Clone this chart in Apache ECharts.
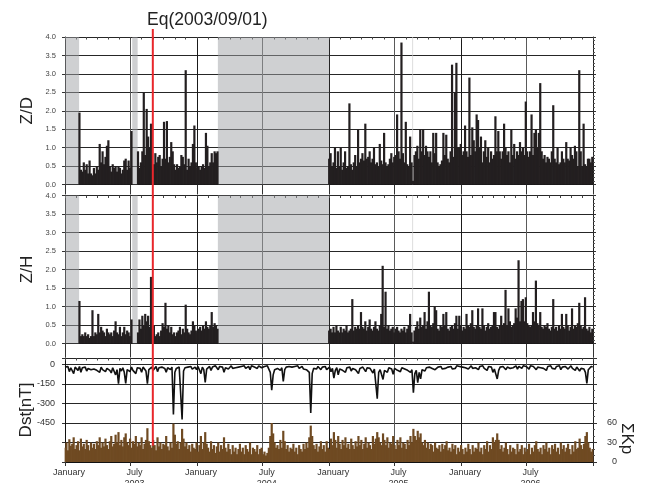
<!DOCTYPE html>
<html><head><meta charset="utf-8">
<script src="https://cdn.jsdelivr.net/npm/echarts@6.0.0/dist/echarts.min.js"></script>
<style>html,body{margin:0;padding:0;background:#fff}#c{width:646px;height:483px}</style>
</head><body><div id="c"></div>
<script>
const FONT = 'Liberation Sans, Arial, sans-serif';
const titleText = 'Eq(2003/09/01)';
const eqDate = '2003-09-01';
const axisStart = '2003-01-01';
const axisEnd = '2007-01-01';
const stepDays = 4;

// shaded (no-data) periods; the last one is a very short gap drawn lighter
const grayPeriods = [['2003-01-01','2003-02-09'],['2003-07-06','2003-07-21'],['2004-02-28','2005-01-01'],['2005-08-19','2005-08-21']];

// Z/D segments (values every 4 days from start date)
const zdStartA = '2003-02-10';
const zdA = [1.95,0.4,0.35,0.6,0.4,0.55,0.3,0.65,0.3,0.25,0.45,0.3,0.5,0.4,1.1,0.6,0.9,0.55,0.75,1.05,
 1.2,0.5,0.35,0.55,0.45,0.5,0.35,0.5,0.45,0.3,0.4,0.65,0.7,0.4,0.65,0.45,1.45];
const zdStartB = '2003-07-22';
const zdB = [0.9,0.45,0.6,0.9,2.5,0.8,2.05,1.3,1.0,1.65,0.5,0.55,0.85,0.6,0.75,0.8,0.5,0.7,1.7,0.7,
 1.72,0.6,0.75,1.15,0.9,0.55,0.4,0.55,0.45,0.5,0.8,0.75,0.55,3.1,0.4,0.7,0.5,0.6,1.1,1.6,
 0.6,0.45,0.5,0.4,0.5,0.55,0.45,1.4,1.05,0.5,0.6,0.85,0.6,0.9,0.85,0.9];
const zdStartC = '2005-01-01';
const zdC = [0.7,0.85,0.5,0.6,1.0,0.45,0.9,0.5,1.0,0.4,0.6,0.9,0.45,0.5,2.2,0.55,0.4,0.6,0.8,0.5,
 1.5,0.6,0.7,0.85,0.65,1.65,0.7,0.75,0.9,0.6,0.7,1.0,0.55,0.6,0.5,1.1,0.65,0.55,1.4,0.6,
 0.5,0.55,0.7,0.85,0.6,0.75,0.8,1.9,0.9,0.7,3.85,0.85,0.6,1.7,0.55,0.5,1.3,0.6,0.1,0.8,
 0.9,1.05,0.7,1.5,0.9,1.5,0.8,1.05,0.9,0.75,0.9,0.6,1.4,0.85,1.4,0.6,0.5,0.55,0.65,1.4,
 0.8,1.35,0.7,0.6,0.9,3.25,0.75,2.5,3.3,1.0,1.0,1.1,0.8,0.9,1.6,0.9,0.75,2.9,0.8,1.55,
 1.2,0.9,1.9,1.75,1.0,1.3,0.6,0.9,1.2,0.75,1.0,0.6,0.9,0.7,0.8,1.85,0.9,1.45,0.9,0.7,
 0.9,1.65,1.0,0.8,0.9,0.6,1.5,0.8,1.1,0.7,0.9,0.8,1.15,0.9,1.0,0.8,2.25,0.9,0.75,0.9,
 1.9,0.8,1.4,1.5,1.0,1.4,2.75,0.9,0.7,0.8,0.6,0.75,0.7,0.6,0.9,2.15,0.7,0.6,1.0,0.55,
 0.6,0.9,0.7,0.6,1.15,0.7,0.65,1.0,0.8,0.7,1.05,0.9,0.5,3.1,0.9,0.5,1.65,0.55,0.5,0.7,
 0.7,0.6,0.75];

// Z/H segments (same start dates as Z/D)
const zhA = [1.15,0.2,0.25,0.2,0.3,0.2,0.25,0.15,0.2,0.9,0.2,0.3,0.25,0.8,0.3,0.45,0.35,0.3,0.2,0.4,
 0.3,0.25,0.3,0.2,0.35,0.6,0.3,0.25,0.45,0.2,0.3,0.45,0.25,0.35,0.3,0.2,0.65];
const zhB = [0.3,0.65,0.4,0.75,0.5,0.8,0.6,0.75,0.45,1.8,0.3,0.5,0.2,0.25,0.3,0.2,0.35,0.55,0.45,1.1,
 0.4,0.5,0.3,0.45,0.25,0.3,0.2,0.3,0.35,0.45,0.25,0.4,0.3,1.05,0.4,0.3,0.25,0.35,0.6,0.5,
 0.35,0.3,0.4,0.45,0.35,0.5,0.4,0.6,0.45,0.4,0.5,0.85,0.45,0.55,0.5,0.4];
const zhC = [0.35,0.4,0.3,0.45,0.3,0.5,0.35,0.3,0.45,0.3,0.4,0.35,0.5,0.3,0.35,0.4,1.2,0.35,0.45,0.4,
 0.5,0.4,0.85,0.45,0.4,0.6,0.35,0.45,0.65,0.4,0.35,0.45,0.6,0.4,0.35,0.5,0.8,2.1,0.45,1.4,
 0.4,0.5,0.35,0.4,0.45,0.3,0.4,0.45,0.35,0.3,0.4,0.35,0.45,0.3,0.4,0.5,0.8,0.3,0.05,0.35,
 0.45,0.6,0.4,0.7,0.45,0.5,0.85,0.4,0.6,1.4,0.5,0.45,0.55,1.0,0.9,0.4,0.35,0.5,0.45,0.8,
 0.5,0.85,0.4,0.35,0.45,0.5,0.4,0.55,0.75,0.4,0.75,0.5,0.35,0.45,0.4,0.8,0.5,0.45,0.55,0.9,
 0.45,0.4,0.5,0.95,0.45,0.4,0.95,0.5,0.35,0.45,0.55,0.4,0.45,0.5,0.85,0.85,0.45,0.4,0.5,0.75,
 0.5,0.55,1.45,0.5,0.95,0.6,0.45,0.5,0.55,0.95,0.7,2.25,0.6,1.15,1.2,0.6,1.25,0.55,0.5,0.45,
 0.5,0.85,0.6,1.7,0.55,0.5,0.85,0.45,0.4,0.5,0.45,0.55,0.4,0.35,0.45,1.2,0.4,0.45,0.35,0.5,
 0.4,0.8,0.45,0.4,0.8,0.5,0.35,0.45,0.95,0.4,0.5,0.45,0.55,1.1,0.5,0.4,0.45,1.25,0.4,0.35,
 0.45,0.3,0.4];

// Dst [nT], every 4 days from 2003-01-01
const dstStart = '2003-01-01';
const dst = [-20,-35,-15,-55,-25,-40,-70,-20,-30,-45,-15,-60,-25,-35,-20,-50,-30,-15,-40,-25,
 -35,-20,-45,-30,-60,-20,-40,-25,-55,-30,-20,-45,-65,-25,-35,-80,-40,-148,-30,-50,
 -25,-60,-145,-40,-30,-55,-20,-45,-35,-70,-25,-40,-30,-60,-20,-35,-50,-148,-40,-30,
 -20,-45,-30,-15,-55,-25,-40,-20,-35,-30,-60,-25,-15,-40,-20,-385,-60,-30,-45,-20,
 -35,-422,-50,-25,-40,-20,-30,-15,-35,-25,-20,-40,-15,-30,-70,-20,-40,-137,-35,-25,
 -15,-45,-20,-30,-10,-25,-40,-15,-30,-20,-60,-25,-15,-35,-20,-10,-30,-15,-25,-10,
 -20,-35,-15,-25,-10,-30,-20,-15,-40,-10,-25,-20,-15,-30,-10,-20,-25,-10,-15,-5,
 -10,-20,-60,-197,-80,-40,-25,-30,-20,-45,-25,-130,-40,-20,-30,-15,-25,-20,-35,-15,
 -25,-10,-30,-20,-15,-35,-20,-40,-25,-60,-373,-70,-30,-20,-35,-15,-25,-40,-20,-30,
 -15,-40,-25,-20,-55,-30,-105,-45,-25,-80,-35,-20,-45,-30,-60,-25,-35,-20,-50,-30,
 -20,-40,-25,-70,-30,-45,-20,-35,-55,-25,-40,-30,-20,-65,-35,-50,-263,-60,-40,-30,
 -115,-45,-30,-60,-25,-40,-35,-75,-30,-20,-45,-30,-55,-25,-40,-35,-20,-45,-30,-60,
 -40,-216,-70,-45,-139,-60,-110,-40,-30,-50,-25,-40,-20,-35,-30,-15,-40,-25,-20,-30,
 -15,-35,-20,-30,-45,-20,-25,-15,-35,-20,-30,-10,-25,-15,-30,-20,-10,-25,-15,-35,
 -20,-10,-30,-15,-25,-20,-40,-15,-25,-10,-30,-20,-45,-15,-30,-20,-60,-35,-50,-111,
 -45,-20,-30,-15,-25,-40,-20,-10,-30,-15,-25,-20,-10,-35,-15,-20,-30,-10,-25,-15,
 -20,-35,-10,-25,-15,-30,-40,-20,-15,-25,-10,-30,-20,-45,-15,-25,-10,-30,-20,-35,
 -15,-25,-10,-40,-20,-30,-15,-25,-35,-20,-10,-30,-15,-45,-20,-25,-50,-30,-20,-35,
 -60,-146,-40,-25,-15,-20];

// daily sum Kp, every 4 days from 2003-01-01
const kp = [22,30,18,35,25,28,38,20,26,32,18,36,24,28,20,34,26,18,30,22,
 28,20,32,26,38,22,30,24,36,26,20,32,40,24,28,42,30,46,26,34,
 24,38,44,30,26,36,22,32,28,40,24,30,26,38,20,28,34,52,32,26,
 22,34,26,18,38,24,30,20,28,26,40,24,18,30,22,59,42,28,32,20,
 30,51,36,24,30,20,26,16,28,22,20,30,16,26,40,20,30,46,28,22,
 16,32,20,26,14,24,30,16,26,20,38,22,16,28,20,12,26,16,22,12,
 20,28,16,22,12,26,20,16,30,12,22,20,16,26,12,20,22,12,16,10,
 14,22,40,60,44,30,22,26,20,34,22,48,32,20,26,16,22,20,28,16,
 22,12,26,20,16,28,20,30,22,38,56,40,26,20,28,16,24,32,20,26,
 16,32,22,20,36,26,46,34,22,40,28,20,34,26,38,22,28,20,36,26,
 20,32,24,40,26,34,20,28,38,22,30,26,20,40,28,36,46,38,30,26,
 44,34,26,38,22,30,28,40,26,20,34,26,38,22,30,28,20,34,26,40,
 30,51,40,34,48,38,44,30,26,34,22,30,20,28,26,16,30,22,20,26,
 16,28,20,26,32,18,22,16,28,20,26,12,22,16,26,20,12,22,16,28,
 20,12,26,16,22,20,30,16,22,12,26,20,32,16,26,20,38,30,34,44,
 34,20,26,16,22,30,20,12,26,16,22,20,12,28,16,20,26,12,22,16,
 20,28,12,22,16,26,32,20,16,22,12,26,20,30,16,22,12,26,20,28,
 16,22,12,30,20,26,16,22,28,20,12,26,16,32,20,22,36,26,20,28,
 40,46,30,22,16,20];

// y-axis label sets
const dstLabels = [0,-150,-300,-450];
const kpLabels = [0,30,60];

// ---- helpers ----
const DAY = 86400000;
const ymd = t => new Date(t).toISOString().slice(0,10);
const parse = s => Date.parse(s + 'T00:00:00Z');
const days = [];
for (let t = parse(axisStart); t <= parse(axisEnd); t += DAY) days.push(ymd(t));
const idx = s => days.indexOf(s);
const seg = (start, vals) => vals.map((v,i) => [idx(ymd(parse(start) + i*stepDays*DAY)), v]);

const zdData = [].concat(seg(zdStartA, zdA), seg(zdStartB, zdB), seg(zdStartC, zdC));
const zhData = [].concat(seg(zdStartA, zhA), seg(zdStartB, zhB), seg(zdStartC, zhC));
const dstData = seg(dstStart, dst);
const kpData = seg(dstStart, kp);
const grayData = grayPeriods.map(p => [idx(p[0]), idx(p[1])]);

const isMonthStart = (i, v) => v.slice(8) === '01';
const isJanJul = (i, v) => v.slice(8) === '01' && (v.slice(5,7) === '01' || v.slice(5,7) === '07');
const isLabel = (i, v) => isJanJul(i, v) && v !== axisEnd;

const grids = [
  {left:65, right:53, top:37, height:147.5, outerBoundsMode:'none', containLabel:false},
  {left:65, right:53, top:195.5, height:148, outerBoundsMode:'none', containLabel:false},
  {left:65, right:53, top:358, height:104, outerBoundsMode:'none', containLabel:false}
];
const xAxes = [];
grids.forEach((g, gi) => {
  xAxes.push({type:'category', gridIndex:gi, data:days, boundaryGap:false, position:'bottom',
    axisLine:{show:true, onZero:false, lineStyle:{color:'#111', width:1}},
    axisTick:{show:true, interval:isJanJul, length: gi===0?10:(gi===1?14:4), lineStyle:{color:'#333'}},
    axisLabel:{show: gi===2, interval:isLabel, fontSize:9, color:'#333', margin:5, lineHeight:11,
      padding:[0,0,0,8], fontFamily:FONT,
      formatter: v => v.slice(5,7)==='01' ? 'January' : 'July\n' + v.slice(0,4)},
    splitLine:{show:true, interval:isJanJul, lineStyle:{color:['#1a1a1a','#5a5a5a'], width:1}}});
  xAxes.push({type:'category', gridIndex:gi, data:days, boundaryGap:false, position:'top',
    axisLine:{show:false, onZero:false},
    axisTick:{show:true, inside:true, interval:isMonthStart, length:2.5, lineStyle:{color:'#444'}},
    axisLabel:{show:false}, splitLine:{show:false}});
});

const zLeft = (gi, name) => ({type:'value', gridIndex:gi, position:'left', min:0, max:4, interval:0.5,
  name, nameLocation:'middle', nameGap:29, nameRotate:90, nameMoveOverlap:false,
  nameTextStyle:{fontSize:17, color:'#222', fontFamily:FONT},
  axisLine:{show:true, lineStyle:{color:'#111'}},
  axisTick:{show:true, length:3, lineStyle:{color:'#333'}},
  axisLabel:{fontSize:7.5, color:'#444', margin:9, fontFamily:FONT, formatter: v => v.toFixed(1)},
  splitLine:{show:true, lineStyle:{color:'#262626', width:1}}});
const zRight = gi => ({type:'value', gridIndex:gi, position:'right', min:0, max:4, interval:0.5,
  axisLine:{show:true, lineStyle:{color:'#222'}},
  axisTick:{show:true, length:3, lineStyle:{color:'#333'}},
  minorTick:{show:true, splitNumber:5, length:2, lineStyle:{color:'#555'}},
  axisLabel:{show:false}, splitLine:{show:false}});

const yAxes = [
  zLeft(0, 'Z/D'), zRight(0),
  zLeft(1, 'Z/H'), zRight(1),
  {type:'value', gridIndex:2, position:'left', min:-750, max:50, interval:150,
    name:'Dst[nT]', nameLocation:'middle', nameGap:30, nameRotate:90, nameMoveOverlap:false,
    nameTextStyle:{fontSize:17, color:'#222', fontFamily:FONT},
    axisLine:{show:true, lineStyle:{color:'#111'}},
    axisTick:{show:true, length:3, lineStyle:{color:'#333'}},
    axisLabel:{fontSize:9, color:'#333', margin:10, fontFamily:FONT,
      formatter: v => dstLabels.includes(v) ? String(v) : ''},
    splitLine:{show:true, lineStyle:{color:'#262626', width:1}}},
  {type:'value', gridIndex:2, position:'right', min:0, max:160, interval:30,
    axisLine:{show:true, lineStyle:{color:'#222'}},
    axisTick:{show:true, length:4, lineStyle:{color:'#333'}},
    minorTick:{show:true, splitNumber:3, length:2, lineStyle:{color:'#555'}},
    axisLabel:{fontSize:9, color:'#333', margin:24, align:'right', fontFamily:FONT,
      formatter: v => kpLabels.includes(v) ? String(v) : ''},
    splitLine:{show:false}}
];

// shading drawn through the axes' own coordinate conversion
const shadeSeries = (xi, yi) => ({type:'custom', xAxisIndex:xi, yAxisIndex:yi, z:1, silent:true,
  data:grayData, encode:{x:[0,1]},
  renderItem:(params, api) => {
    const p0 = api.coord([api.value(0), 4]);
    const p1 = api.coord([api.value(1), 0]);
    const last = params.dataIndex === grayData.length - 1;
    return {type:'rect', shape:{x:p0[0], y:p0[1], width:Math.max(p1[0]-p0[0], 0.8), height:p1[1]-p0[1]},
      style:{fill: last ? 'rgba(205,205,205,0.85)' : 'rgba(160,162,166,0.5)'}};
  }});

const chart = echarts.init(document.getElementById('c'));
chart.setOption({
  animation:false,
  backgroundColor:'#fff',
  textStyle:{fontFamily:FONT},
  title:{text:titleText, left:142, top:6, textStyle:{fontSize:17.5, fontWeight:'normal', color:'#222', fontFamily:FONT}},
  grid:grids,
  xAxis:xAxes,
  yAxis:yAxes,
  series:[
    shadeSeries(0, 0),
    shadeSeries(2, 2),
    {type:'bar', name:'Z/D', xAxisIndex:0, yAxisIndex:0, data:zdData, barWidth:2.2, z:2,
      itemStyle:{color:'#231f20'}},
    {type:'bar', name:'Z/H', xAxisIndex:2, yAxisIndex:2, data:zhData, barWidth:2.2, z:2,
      itemStyle:{color:'#231f20'}},
    {type:'bar', name:'ΣKp', xAxisIndex:4, yAxisIndex:5, data:kpData, barWidth:2.2,
      itemStyle:{color:'#6f4a22'}},
    {type:'line', name:'Dst', xAxisIndex:4, yAxisIndex:4, data:dstData, showSymbol:false, z:5,
      lineStyle:{color:'#111', width:1.6}}
  ]
});

// red earthquake line and right axis title, placed through the chart's own scales
const eqX = chart.convertToPixel({xAxisIndex:0}, idx(eqDate));
const yTop = chart.convertToPixel({yAxisIndex:0}, 4) - 8;
const yBot = chart.convertToPixel({yAxisIndex:5}, 25);
const rightX = chart.convertToPixel({xAxisIndex:4}, days.length - 1);
chart.setOption({graphic:[
  {type:'line', z:100, shape:{x1:eqX, y1:yTop, x2:eqX, y2:yBot}, style:{stroke:'#e8262b', lineWidth:2}},
  {type:'text', z:100, x:rightX + 34, y:chart.convertToPixel({yAxisIndex:5}, 36), rotation:-Math.PI/2,
    style:{text:'ΣKp', fontSize:17, fill:'#222', fontFamily:FONT, align:'center', verticalAlign:'middle'}}
]});
</script></body></html>
